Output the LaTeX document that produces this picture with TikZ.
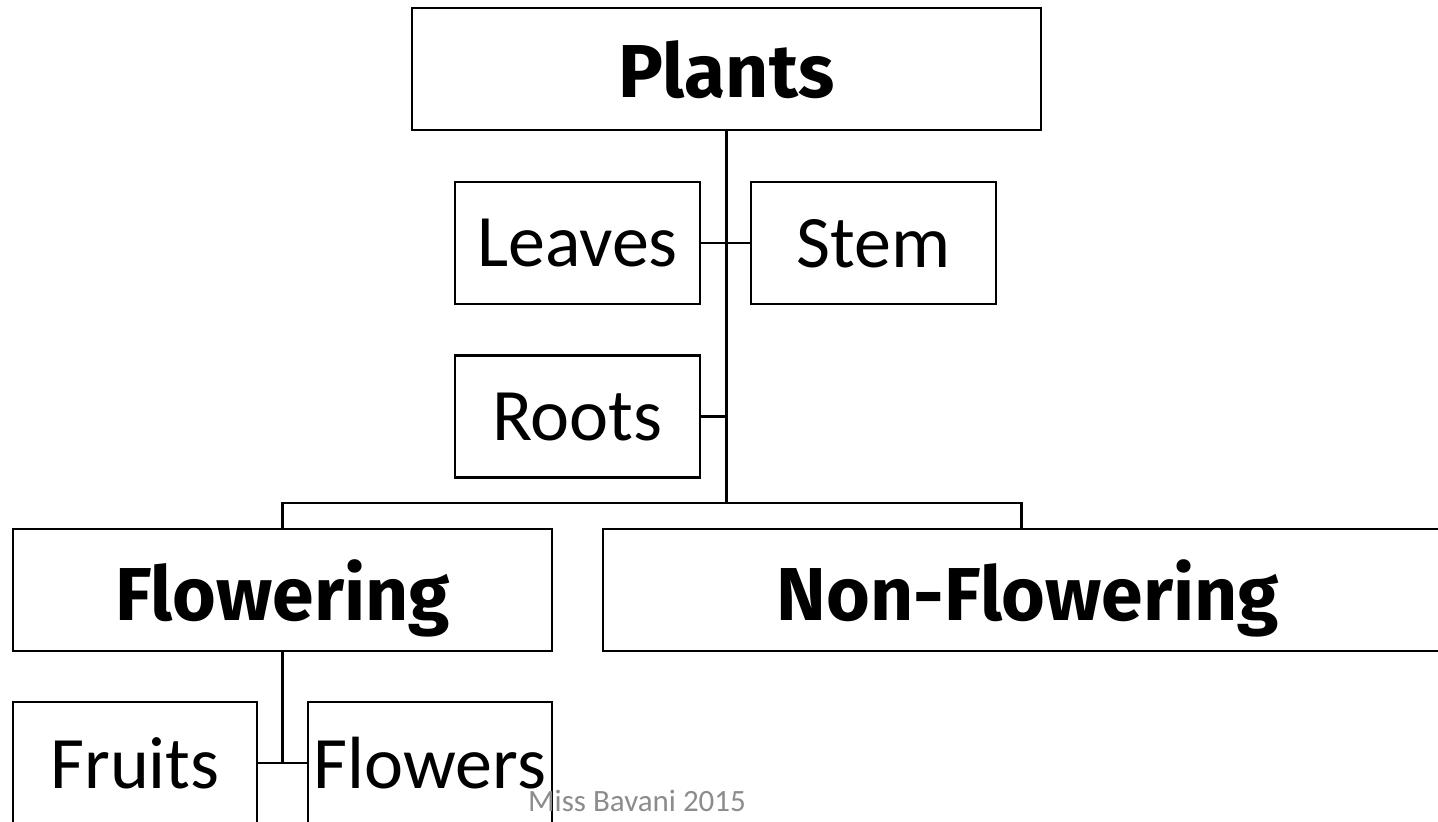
\documentclass[tikz,border=0pt]{standalone}
\usepackage{fontspec}
\setmainfont{Carlito}
\newfontfamily\headfont{Fira Sans}
\usepackage{tikz}
\usepackage{xcolor}

\tikzset{
  partbox/.style={draw, line width=2.6pt, inner sep=0pt, minimum width=245pt, minimum height=122pt,
    text depth=0pt, font=\fontsize{74}{80}\selectfont},
  groupbox/.style={draw, line width=2.6pt, inner sep=0pt, minimum height=122pt,
    text depth=0pt, font=\headfont\bfseries\fontsize{75}{90}\selectfont},
  link/.style={line width=2.2pt}
}

\begin{document}
\begin{tikzpicture}[x=1pt, y=-1pt]
\useasboundingbox (0,0) rectangle (1438,822);
\clip (0,0) rectangle (1438,822);

% top of the tree
\node[groupbox, minimum width=629pt] (plants) at (726.5,69) {Plants};

% parts of a plant
\node[partbox] (leaves) at (577.5,243) {Leaves};
\node[partbox] (stem) at (873.5,243) {Stem};
\node[partbox] (roots) at (577.5,416.5) {Roots};

% the two groups
\node[groupbox, minimum width=539pt] (flowering) at (282.5,590) {Flowering};
\node[groupbox, minimum width=850pt] (nonflowering) at (1028,590) {Non-Flowering};
\coordinate (nfdrop) at (1021.5,529);

% parts of a flowering plant
\node[partbox, minimum width=244pt] (fruits) at (135,763) {Fruits};
\node[partbox, minimum width=244pt] (flowers) at (430,763) {Flowers};

\coordinate (split) at (726.5,503);

\draw[link] (plants.south) -- (split);
\draw[link] (leaves.east) -- (stem.west);
\draw[link] (roots.east) -- (roots.east -| split);
\draw[link] (flowering.north) |- (split) -| (nfdrop);
\draw[link] (flowering.south) -- (flowering.south |- fruits.east);
\draw[link] (fruits.east) -- (flowers.west);

\node[text=black!45, font=\fontsize{31}{36}\selectfont, anchor=base west, inner sep=0pt] (credit) at (528,811) {Miss Bavani 2015};
\end{tikzpicture}
\end{document}
